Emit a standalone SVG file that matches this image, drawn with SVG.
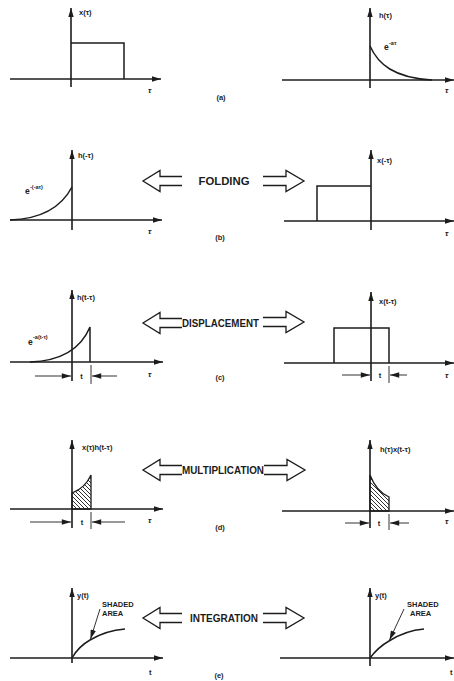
<svg xmlns="http://www.w3.org/2000/svg" width="454" height="681" viewBox="0 0 454 681">
<style>
.ax{stroke:#1c1c1c;stroke-width:1.6;fill:none}
.ln{stroke:#1c1c1c;stroke-width:1.5;fill:none}
.th{stroke:#1c1c1c;stroke-width:0.9;fill:none}
.ha{stroke:#1c1c1c;stroke-width:1.3;fill:#fff}
.lb{font-family:"Liberation Sans",Arial,sans-serif;font-weight:bold;font-size:7.5px;fill:#1c1c1c}
.ee{font-family:"Liberation Sans",Arial,sans-serif;font-weight:bold;font-size:8.5px;fill:#1c1c1c}
.sp{font-family:"Liberation Sans",Arial,sans-serif;font-weight:bold;font-size:5.5px;fill:#1c1c1c}
.op{font-family:"Liberation Sans",Arial,sans-serif;font-weight:bold;font-size:10px;fill:#1c1c1c}
.tau{font-family:"Liberation Sans",Arial,sans-serif;font-weight:bold;font-style:italic;font-size:8px;fill:#1c1c1c}
.hatch{fill:url(#hp);stroke:#1c1c1c;stroke-width:1.3}
</style>
<defs>
<marker id="ah" viewBox="0 0 10 6" refX="10" refY="3" markerWidth="9" markerHeight="6" markerUnits="userSpaceOnUse" orient="auto"><path d="M0,0 L10,3 L0,6 z" fill="#1c1c1c"/></marker>
<marker id="dh" viewBox="0 0 10 6" refX="10" refY="3" markerWidth="10" markerHeight="5.5" markerUnits="userSpaceOnUse" orient="auto"><path d="M0,0 L10,3 L0,6 z" fill="#1c1c1c"/></marker>
<pattern id="hp" patternUnits="userSpaceOnUse" width="4" height="4"><path d="M-1,-1 L5,5 M-1,3 L1,5 M3,-1 L5,1" stroke="#1c1c1c" stroke-width="0.9"/></pattern>
<polyline id="la" points="39,-4.5 17,-4.5 17,-10.5 0,0 17,10.5 17,4.5 39,4.5"/>
<polyline id="ra" points="-41,-4.5 -18,-4.5 -18,-10.5 0,0 -18,10.5 -18,4.5 -41,4.5"/>
</defs>

<g id="connectors">
<use href="#la" x="143" y="181" class="ha"/>
<use href="#ra" x="304" y="181" class="ha"/>
<use href="#la" x="143" y="323" class="ha"/>
<use href="#ra" x="304" y="322" class="ha"/>
<use href="#la" x="143" y="470" class="ha"/>
<use href="#ra" x="305" y="470" class="ha"/>
<use href="#la" x="143" y="618" class="ha"/>
<use href="#ra" x="304" y="618" class="ha"/>
</g>

<g id="labels-ops">
<text class="op" x="224" y="185" text-anchor="middle" textLength="51" lengthAdjust="spacingAndGlyphs">FOLDING</text>
<text class="op" x="220.5" y="327" text-anchor="middle" textLength="77" lengthAdjust="spacingAndGlyphs">DISPLACEMENT</text>
<text class="op" x="223" y="474" text-anchor="middle" textLength="82" lengthAdjust="spacingAndGlyphs">MULTIPLICATION</text>
<text class="op" x="224" y="622" text-anchor="middle" textLength="68" lengthAdjust="spacingAndGlyphs">INTEGRATION</text>
<text class="lb" x="221" y="100" text-anchor="middle">(a)</text>
<text class="lb" x="220" y="240" text-anchor="middle">(b)</text>
<text class="lb" x="220" y="380" text-anchor="middle">(c)</text>
<text class="lb" x="220" y="530" text-anchor="middle">(d)</text>
<text class="lb" x="219" y="678" text-anchor="middle">(e)</text>
</g>

<g id="a-left">
<line class="ax" x1="71" y1="87" x2="71" y2="8" marker-end="url(#ah)"/>
<line class="ax" x1="10" y1="79" x2="161" y2="79" marker-end="url(#ah)"/>
<polyline class="ln" points="71,43 124,43 124,79"/>
<text class="lb" x="79" y="15">x(τ)</text>
<text class="tau" x="148" y="93">τ</text>
</g>

<g id="a-right">
<line class="ax" x1="370" y1="88" x2="370" y2="8" marker-end="url(#ah)"/>
<line class="ax" x1="282" y1="80" x2="454" y2="80" marker-end="url(#ah)"/>
<path class="ln" d="M370,46 C378,64 394,78 432,80"/>
<text class="lb" x="379" y="18">h(τ)</text>
<text class="ee" x="384" y="50">e</text>
<text class="sp" x="389" y="45">-aτ</text>
<text class="tau" x="445" y="93">τ</text>
</g>

<g id="b-left">
<line class="ax" x1="72" y1="230" x2="72" y2="150" marker-end="url(#ah)"/>
<line class="ax" x1="10" y1="220" x2="162" y2="220" marker-end="url(#ah)"/>
<path class="ln" d="M10,220 C42,219 62,206 72,187"/>
<text class="lb" x="78" y="158">h(-τ)</text>
<text class="ee" x="25" y="194">e</text>
<text class="sp" x="30" y="189">-(-aτ)</text>
<text class="tau" x="148" y="234">τ</text>
</g>

<g id="b-right">
<line class="ax" x1="371" y1="230" x2="371" y2="150" marker-end="url(#ah)"/>
<line class="ax" x1="284" y1="221" x2="454" y2="221" marker-end="url(#ah)"/>
<polyline class="ln" points="317,221 317,186 371,186"/>
<text class="lb" x="377" y="163">x(-τ)</text>
<text class="tau" x="445" y="236">τ</text>
</g>

<g id="c-left">
<line class="ax" x1="72" y1="381" x2="72" y2="290" marker-end="url(#ah)"/>
<line class="ax" x1="10" y1="362" x2="163" y2="362" marker-end="url(#ah)"/>
<path class="ln" d="M30,362 C58,361 80,351 90,327 L90,362"/>
<line class="th" x1="91" y1="365" x2="91" y2="384"/>
<line class="th" x1="35" y1="376" x2="71" y2="376" marker-end="url(#dh)"/>
<line class="th" x1="117" y1="376" x2="92" y2="376" marker-end="url(#dh)"/>
<text class="lb" x="81.5" y="379" text-anchor="middle">t</text>
<text class="lb" x="77" y="300">h(t-τ)</text>
<text class="ee" x="28" y="345">e</text>
<text class="sp" x="33" y="339">-a(t-τ)</text>
<text class="tau" x="148" y="377">τ</text>
</g>

<g id="c-right">
<line class="ax" x1="371" y1="381" x2="371" y2="292" marker-end="url(#ah)"/>
<line class="ax" x1="284" y1="363" x2="454" y2="363" marker-end="url(#ah)"/>
<polyline class="ln" points="334,363 334,328 389,328 389,363"/>
<line class="th" x1="389" y1="366" x2="389" y2="383"/>
<line class="th" x1="342" y1="375" x2="370" y2="375" marker-end="url(#dh)"/>
<line class="th" x1="407" y1="375" x2="390" y2="375" marker-end="url(#dh)"/>
<text class="lb" x="380" y="378" text-anchor="middle">t</text>
<text class="lb" x="379" y="304">x(t-τ)</text>
<text class="tau" x="445" y="378">τ</text>
</g>

<g id="d-left">
<path class="hatch" d="M72,509 L72,493 C80,490 87,484 91,475 L91,509 Z"/>
<line class="ax" x1="72" y1="528" x2="72" y2="440" marker-end="url(#ah)"/>
<line class="ax" x1="10" y1="509" x2="163" y2="509" marker-end="url(#ah)"/>
<line class="th" x1="91" y1="512" x2="91" y2="529"/>
<line class="th" x1="30" y1="522" x2="71" y2="522" marker-end="url(#dh)"/>
<line class="th" x1="125" y1="522" x2="92" y2="522" marker-end="url(#dh)"/>
<text class="lb" x="82" y="525" text-anchor="middle">t</text>
<text class="lb" x="82" y="450">x(τ)h(t-τ)</text>
<text class="tau" x="148" y="523">τ</text>
</g>

<g id="d-right">
<path class="hatch" d="M370,511 L370,475 C375,488 382,494 389,497 L389,511 Z"/>
<line class="ax" x1="370" y1="528" x2="370" y2="440" marker-end="url(#ah)"/>
<line class="ax" x1="282" y1="511" x2="454" y2="511" marker-end="url(#ah)"/>
<line class="th" x1="389" y1="514" x2="389" y2="530"/>
<line class="th" x1="345" y1="523" x2="369" y2="523" marker-end="url(#dh)"/>
<line class="th" x1="409" y1="523" x2="390" y2="523" marker-end="url(#dh)"/>
<text class="lb" x="379" y="526" text-anchor="middle">t</text>
<text class="lb" x="380" y="452">h(τ)x(t-τ)</text>
<text class="tau" x="445" y="524">τ</text>
</g>

<g id="e-left">
<line class="ax" x1="72" y1="663" x2="72" y2="588" marker-end="url(#ah)"/>
<line class="ax" x1="10" y1="658" x2="163" y2="658" marker-end="url(#ah)"/>
<path class="ln" d="M72,658 C77,649 83,644 90,640 C100,634 112,630 125,629"/>
<line class="th" x1="100" y1="609" x2="90.5" y2="639" marker-end="url(#dh)"/>
<text class="lb" x="77" y="598">y(t)</text>
<text class="lb" x="102" y="607">SHADED</text>
<text class="lb" x="102" y="616">AREA</text>
<text class="lb" x="149" y="675">t</text>
</g>

<g id="e-right">
<line class="ax" x1="370" y1="666" x2="370" y2="588" marker-end="url(#ah)"/>
<line class="ax" x1="280" y1="658" x2="454" y2="658" marker-end="url(#ah)"/>
<path class="ln" d="M370,658 C376,650 382,645 389,641 C400,634 412,630 424,629"/>
<line class="th" x1="404" y1="609" x2="389.5" y2="640" marker-end="url(#dh)"/>
<text class="lb" x="375" y="598">y(t)</text>
<text class="lb" x="407" y="607">SHADED</text>
<text class="lb" x="410" y="616">AREA</text>
<text class="lb" x="450" y="675">t</text>
</g>
</svg>
